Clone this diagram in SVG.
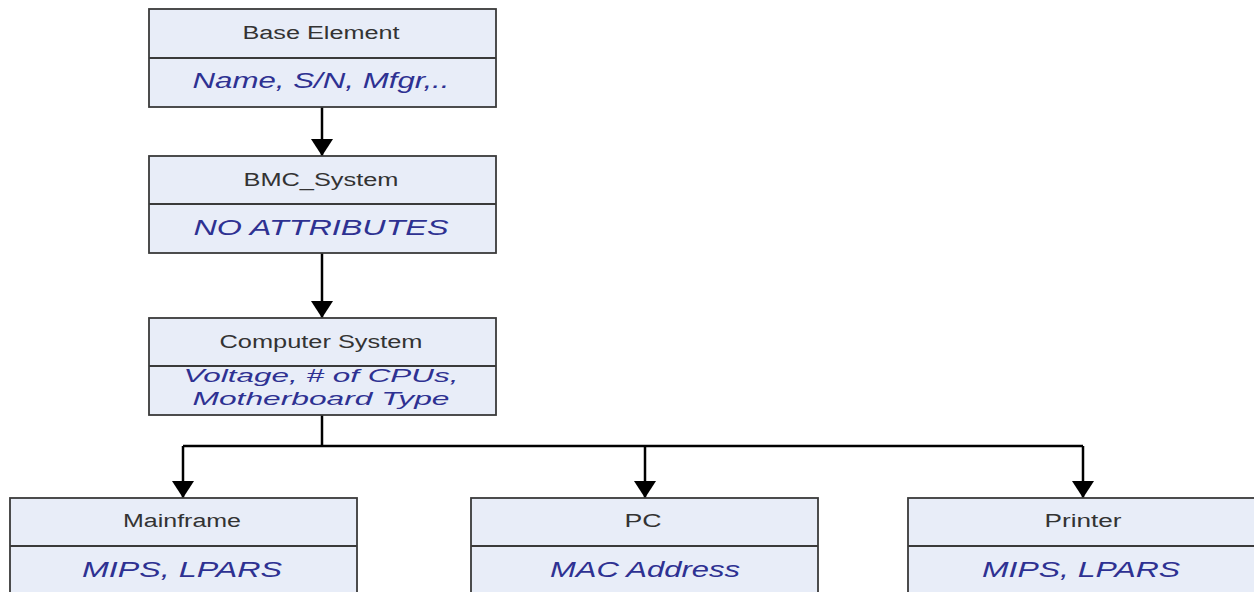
<svg xmlns="http://www.w3.org/2000/svg" width="1254" height="592" viewBox="0 0 1254 592">
  <style>
    .box { fill: #e8edf8; stroke: #3a3a3a; stroke-width: 1.8; }
    .div { stroke: #3a3a3a; stroke-width: 1.8; }
    .hdr { font-family: "Liberation Sans", Arial, sans-serif; font-size: 18px; fill: #333333; text-anchor: middle; }
    .att { font-family: "Liberation Sans", Arial, sans-serif; font-size: 21.5px; font-style: italic; fill: #2e3192; text-anchor: middle; }
    .att2 { font-size: 19px; }
    .con { fill: none; stroke: #000000; stroke-width: 2.5; }
  </style>
  <defs>
    <marker id="arrow" viewBox="0 0 17 22" refX="17" refY="11" markerWidth="17" markerHeight="22" markerUnits="userSpaceOnUse" orient="auto">
      <path d="M0,0 L17,11 L0,22 Z" fill="#000000"/>
    </marker>
  </defs>
  <rect width="1254" height="592" fill="#ffffff"/>

  <g id="connectors">
    <line class="con" x1="322" y1="107" x2="322" y2="156" marker-end="url(#arrow)"/>
    <line class="con" x1="322" y1="253" x2="322" y2="318" marker-end="url(#arrow)"/>
    <line class="con" x1="322" y1="415" x2="322" y2="446"/>
    <line class="con" x1="183" y1="446" x2="1083" y2="446"/>
    <polyline class="con" points="183,446 183,498" marker-end="url(#arrow)"/>
    <polyline class="con" points="645,446 645,498" marker-end="url(#arrow)"/>
    <polyline class="con" points="1083,446 1083,498" marker-end="url(#arrow)"/>
  </g>

  <g id="base-element">
    <rect class="box" x="149" y="9" width="347" height="98"/>
    <line class="div" x1="149" y1="58" x2="496" y2="58"/>
    <text class="hdr" x="321" y="39" textLength="157" lengthAdjust="spacingAndGlyphs">Base Element</text>
    <text class="att" x="321" y="88" textLength="257" lengthAdjust="spacingAndGlyphs">Name, S/N, Mfgr,..</text>
  </g>

  <g id="bmc-system">
    <rect class="box" x="149" y="156" width="347" height="97"/>
    <line class="div" x1="149" y1="204" x2="496" y2="204"/>
    <text class="hdr" x="321" y="186" textLength="155" lengthAdjust="spacingAndGlyphs">BMC_System</text>
    <text class="att" x="321" y="235" textLength="255" lengthAdjust="spacingAndGlyphs">NO ATTRIBUTES</text>
  </g>

  <g id="computer-system">
    <rect class="box" x="149" y="318" width="347" height="97"/>
    <line class="div" x1="149" y1="366" x2="496" y2="366"/>
    <text class="hdr" x="321" y="348" textLength="203" lengthAdjust="spacingAndGlyphs">Computer System</text>
    <text class="att att2" x="321" y="382" textLength="275" lengthAdjust="spacingAndGlyphs">Voltage, # of CPUs,</text>
    <text class="att att2" x="321" y="405" textLength="257" lengthAdjust="spacingAndGlyphs">Motherboard Type</text>
  </g>

  <g id="mainframe">
    <rect class="box" x="10" y="498" width="347" height="110"/>
    <line class="div" x1="10" y1="546" x2="357" y2="546"/>
    <text class="hdr" x="182" y="527" textLength="118" lengthAdjust="spacingAndGlyphs">Mainframe</text>
    <text class="att" x="182" y="577" textLength="200" lengthAdjust="spacingAndGlyphs">MIPS, LPARS</text>
  </g>

  <g id="pc">
    <rect class="box" x="471" y="498" width="347" height="110"/>
    <line class="div" x1="471" y1="546" x2="818" y2="546"/>
    <text class="hdr" x="643" y="527" textLength="37" lengthAdjust="spacingAndGlyphs">PC</text>
    <text class="att" x="645" y="577" textLength="190" lengthAdjust="spacingAndGlyphs">MAC Address</text>
  </g>

  <g id="printer">
    <rect class="box" x="908" y="498" width="347" height="110"/>
    <line class="div" x1="908" y1="546" x2="1255" y2="546"/>
    <text class="hdr" x="1083" y="527" textLength="77" lengthAdjust="spacingAndGlyphs">Printer</text>
    <text class="att" x="1081" y="577" textLength="198" lengthAdjust="spacingAndGlyphs">MIPS, LPARS</text>
  </g>
</svg>
